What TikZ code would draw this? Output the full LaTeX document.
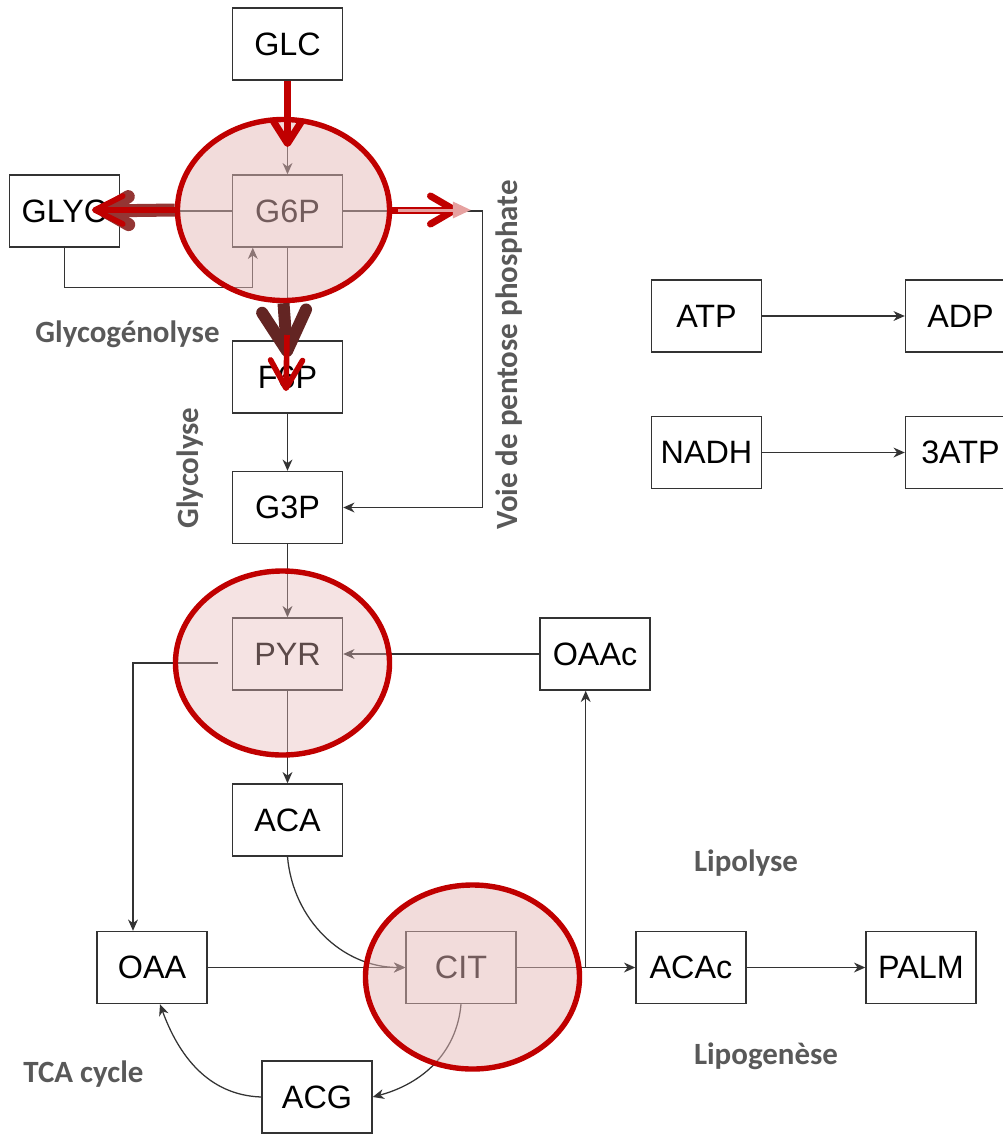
\documentclass[tikz,border=0pt]{standalone}
\usepackage{fontspec}
\setmainfont{Liberation Sans}
\newfontfamily\tagfont{Carlito}
\usetikzlibrary{arrows.meta,shapes.geometric}
\definecolor{hotred}{HTML}{C00000}
\definecolor{rust}{HTML}{943634}
\definecolor{darkrust}{HTML}{632523}
\definecolor{blush}{HTML}{E6A1A0}
\definecolor{ringfill}{HTML}{E6B9B8}
\definecolor{tagtext}{HTML}{595959}

\begin{document}
\begin{tikzpicture}[x=0.025cm, y=0.025cm,
    met/.style={draw=black!80, line width=1pt, minimum width=2.75cm, minimum height=1.8cm,
                inner sep=0pt, font=\fontsize{23}{27}\selectfont},
    arr/.style={draw=black!80, line width=0.9pt, -{Stealth[length=8pt, width=7pt, inset=2.5pt]}},
    ring/.style={ellipse, draw=hotred, line width=0.135cm, fill=ringfill, fill opacity=0.5,
                 draw opacity=1, minimum width=5.35cm, minimum height=4.6cm, inner sep=0pt},
    tag/.style={text=tagtext, inner sep=0pt, font=\tagfont\bfseries\fontsize{22}{26}\selectfont},
    flux/.style={line width=0.175cm, -{Straight Barb[length=0.55cm, width=0.7cm, round]}},
]
\useasboundingbox (0,0) rectangle (1003,-1134);

\node[met] (glc)  at (287.5,-44)    {GLC};
\node[met] (glyc) at (64.5,-211)    {GLYC};
\node[met] (g6p)  at (287.5,-211)   {G6P};
\node[met] (f6p)  at (287.5,-377)   {F6P};
\node[met] (g3p)  at (287.5,-507.5) {G3P};
\node[met] (pyr)  at (287.5,-654)   {PYR};
\node[met] (aca)  at (287.5,-820)   {ACA};
\node[met] (oaa)  at (152,-967.5)   {OAA};
\node[met] (cit)  at (461,-967.5)   {CIT};
\node[met] (acg)  at (317,-1097)    {ACG};
\node[met] (oaac) at (595,-654)     {OAAc};
\node[met] (acac) at (691,-967.5)   {ACAc};
\node[met] (palm) at (921,-967.5)   {PALM};
\node[met] (atp)  at (706.5,-316)   {ATP};
\node[met] (adp)  at (960.5,-316)   {ADP};
\node[met] (nadh) at (706.5,-452.5) {NADH};
\node[met] (tatp) at (960.5,-452.5) {3ATP};

\draw[arr] (glc) -- (g6p);
\draw[arr] (g6p) -- (f6p);
\draw[arr] (f6p) -- (g3p);
\draw[arr] (g3p) -- (pyr);
\draw[arr] (pyr) -- (aca);
\draw[arr] (oaac) -- (pyr);
\draw[draw=black!80, line width=0.9pt] (g6p.west) -- (glyc.east);
\draw[arr] (g6p.east) -- ++(139,0) |- (g3p.east);
\draw[arr] (glyc.south) -- ++(0,-40) -| ([xshift=0.525cm]g6p.south west);
\draw[arr] ([xshift=-0.35cm,yshift=-0.225cm]pyr.west) -| ([xshift=-0.475cm]oaa.north);
\draw[arr] (oaa) -- (cit);
\draw[arr] (aca.south) to[out=-85, in=180] (cit.west);
\draw[arr] (cit.south) to[out=-95, in=15] (acg.east);
\draw[arr] (acg.west) to[out=178, in=-70] ([xshift=0.2cm]oaa.south);
\draw[draw=black!80, line width=0.9pt] (cit.east) -- ++(69,0) coordinate (fork);
\draw[arr] (fork) -- (fork |- oaac.south);
\draw[arr] (fork) -- (acac);
\draw[arr] (acac) -- (palm);
\draw[arr] (atp) -- (adp);
\draw[arr] (nadh) -- (tatp);

\node[ring, minimum width=5.3cm, minimum height=4.525cm] (g6pring) at (283.5,-210) {};
\node[ring, fill opacity=0.4] (pyrring) at (282.5,-663) {};
\node[ring] (citring) at (472.5,-977) {};

\node[tag] (glycogenolyse) at (127.5,-334) {Glycogénolyse};
\node[tag, rotate=90] (glycolyse) at (190,-468) {Glycolyse};
\node[tag, rotate=90] (pentose) at (509,-355) {Voie de pentose phosphate};
\node[tag] (lipolyse) at (746,-863) {Lipolyse};
\node[tag] (lipogenese) at (766,-1056) {Lipogenèse};
\node[tag] (tca) at (83.5,-1074) {TCA cycle};

\coordinate (glcin) at (287.5,-147);
\coordinate (glycout) at (98,-211);
\coordinate (glycred) at (92,-210);
\coordinate (pppred) at (458,-210);
\coordinate (pppend) at (471,-210);
\coordinate (pppstart) at (398,-210);
\coordinate (f6pin) at (287.5,-357);
\coordinate (f6pred) at (287,-335);
\coordinate (f6pend) at (286,-391);
\draw[flux, draw=hotred] (glc.south) -- (glcin);
\draw[flux, draw=rust, line width=0.325cm, -{Straight Barb[length=0.6cm, width=0.7cm, round]}] (g6pring.west) -- (glycout);
\draw[flux, draw=hotred, line width=0.14cm, -{Straight Barb[length=0.7cm, width=0.7cm, round]}] (g6pring.west) -- (glycred);
\draw[flux, draw=hotred, -{Straight Barb[length=0.6cm, width=0.7cm, round]}] (g6pring.east) -- (pppred);
\draw[draw=blush, line width=0.075cm, -{Triangle[length=0.45cm, width=0.4cm]}] (pppstart) -- (pppend);
\draw[flux, draw=darkrust, line width=0.3cm, -{Straight Barb[length=1cm, width=1.1cm, round]}] (g6pring.south) -- (f6pin);
\draw[flux, draw=hotred, line width=0.14cm, -{Straight Barb[length=0.7cm, width=0.8cm, round]}] (f6pred) -- (f6pend);
\end{tikzpicture}
\end{document}
